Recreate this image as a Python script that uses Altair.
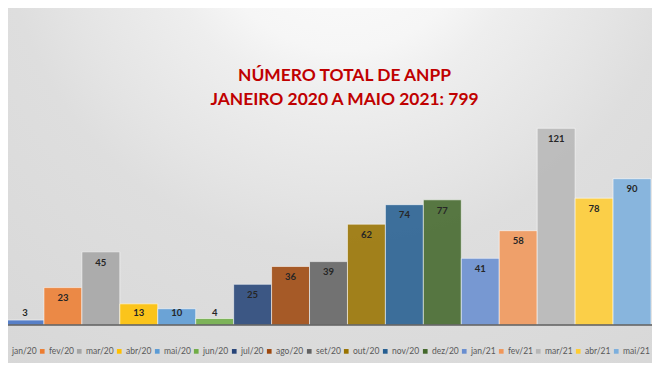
import altair as alt
import pandas as pd

months = ["jan/20", "fev/20", "mar/20", "abr/20", "mai/20", "jun/20", "jul/20",
          "ago/20", "set/20", "out/20", "nov/20", "dez/20", "jan/21", "fev/21",
          "mar/21", "abr/21", "mai/21"]
values = [3, 23, 45, 13, 10, 4, 25, 36, 39, 62, 74, 77, 41, 58, 121, 78, 90]
colors = ["#4472C4", "#ED7D31", "#A5A5A5", "#FFC000", "#5B9BD5", "#70AD47",
          "#264478", "#9E480E", "#636363", "#997300", "#255E91", "#43682B",
          "#698ED0", "#F1975A", "#B7B7B7", "#FFCD33", "#7CAFDD"]
grid_values = [20, 40, 60, 80, 100, 120, 140]
title_lines = ["NÚMERO TOTAL DE ANPP", "JANEIRO 2020 A MAIO 2021: 799"]

df = pd.DataFrame({"month": months, "value": values})

W, H = 644, 355

bg_gradient = {
    "gradient": "radial",
    "x1": 0.52, "y1": 0.08, "r1": 0,
    "x2": 0.52, "y2": 0.08, "r2": 1.05,
    "stops": [
        {"offset": 0.0, "color": "#fdfdfd"},
        {"offset": 0.2, "color": "#f6f6f6"},
        {"offset": 0.27, "color": "#eeeeee"},
        {"offset": 0.42, "color": "#e4e4e4"},
        {"offset": 0.5, "color": "#dedede"},
        {"offset": 0.8, "color": "#d8d8d8"},
        {"offset": 1.0, "color": "#d2d2d2"},
    ],
}

bg = alt.Chart(pd.DataFrame({"k": [0]})).mark_rect(fill=bg_gradient).encode(
    x=alt.value(0), x2=alt.value("width"), y=alt.value(0), y2=alt.value("height")
)

xscale = alt.Scale(domain=months, range=[-2, 643], paddingInner=0, paddingOuter=0)
yscale = alt.Scale(domain=[0, 140], range=[317, 89.4], nice=False, zero=True)

base = alt.Chart(df)

bars = base.mark_bar(
    fillOpacity=0.88, stroke="#ffffff", strokeOpacity=0.55, strokeWidth=1
).encode(
    x=alt.X("month:N", sort=months, scale=xscale, axis=None),
    y=alt.Y("value:Q", scale=yscale,
            axis=alt.Axis(values=grid_values, grid=True, labels=False, ticks=False,
                          domain=False, title=None, gridColor="#cbcbcb",
                          gridWidth=1)),
    color=alt.Color(
        "month:N", sort=months,
        scale=alt.Scale(domain=months, range=colors),
        legend=alt.Legend(
            orient="none", legendX=-7, legendY=339, direction="horizontal",
            title=None, symbolType="square", symbolSize=22, symbolStrokeWidth=0,
            labelFont="Lato", labelFontSize=8.5, labelColor="#595959",
            columnPadding=1, labelOffset=2.5, padding=0,
        ),
    ),
)

labels = base.transform_calculate(
    lab="max(datum.value - 6.6, 7.4)"
).mark_text(
    font="Lato", fontSize=9.5, fontWeight="bold", color="#262626", baseline="middle"
).encode(
    x=alt.X("month:N", sort=months, scale=xscale, axis=None),
    y=alt.Y("lab:Q", scale=yscale, axis=None),
    text=alt.Text("value:Q"),
)

baseline = alt.Chart(pd.DataFrame({"z": [0]})).mark_rule(
    color="#5a5a5a", strokeWidth=1.6
).encode(y=alt.Y("z:Q", scale=yscale, axis=None))

chart = alt.layer(bg, bars, labels, baseline).properties(
    width=W, height=H,
    title=alt.TitleParams(
        text=title_lines, font="Lato", fontSize=17.4, fontWeight="bold",
        color="#C00000", anchor="middle", offset=0, dy=100, dx=14.5, lineHeight=23.5,
    ),
    autosize=alt.AutoSizeParams(type="none"),
    padding=0,
).configure_view(stroke=None)

chart.save("out.html", embed_options={"renderer": "svg", "actions": False})
